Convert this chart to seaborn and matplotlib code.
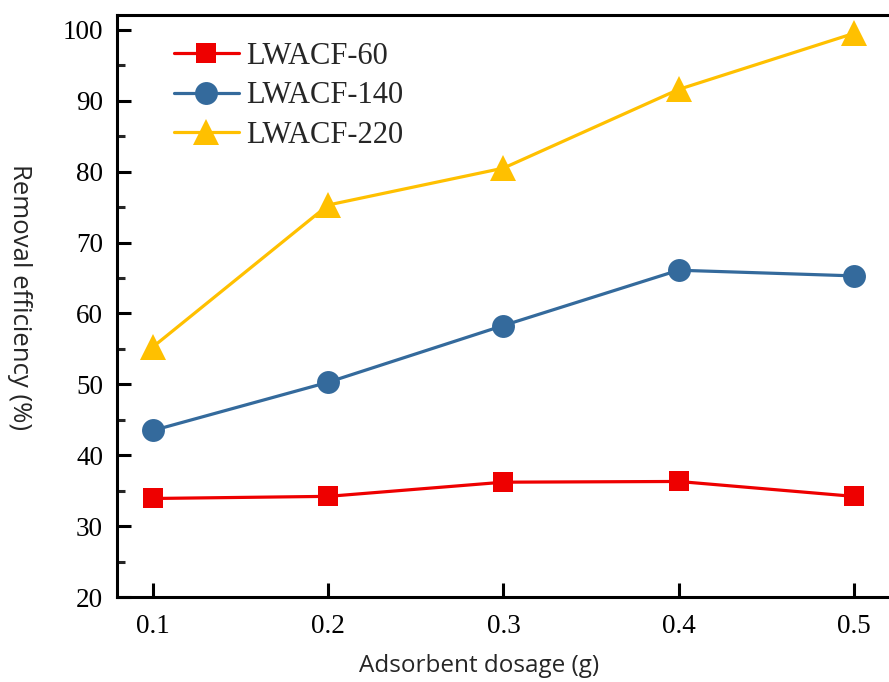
import matplotlib
matplotlib.use("Agg")
import matplotlib.pyplot as plt
import seaborn as sns
import pandas as pd
from matplotlib.ticker import MultipleLocator

dosage = [0.1, 0.2, 0.3, 0.4, 0.5]
lwacf_60 = [33.9, 34.2, 36.2, 36.3, 34.2]
lwacf_140 = [43.5, 50.3, 58.3, 66.1, 65.3]
lwacf_220 = [55.3, 75.3, 80.5, 91.6, 99.5]
series_names = ["LWACF-60", "LWACF-140", "LWACF-220"]

sns.set_theme(style="ticks")
plt.rcParams['font.family'] = ['Liberation Serif', 'DejaVu Serif']

fig = plt.figure(figsize=(8.89, 6.82), dpi=100)
ax = fig.add_axes([0.1316, 0.1246, 0.876, 0.8534])

styles = [("#EE0000", "s", 14), ("#346A9C", "o", 16.5), ("#FFC000", "^", 19)]
for name, vals, (col, mk, ms) in zip(series_names, [lwacf_60, lwacf_140, lwacf_220], styles):
    df = pd.DataFrame({"x": dosage, "y": vals})
    sns.lineplot(data=df, x="x", y="y", ax=ax, color=col, marker=mk, markersize=ms,
                 linewidth=2.3, markeredgewidth=0, label=name)

ax.set_xlim(0.0794, 0.524)
ax.set_ylim(20, 102.1)
ax.set_xticks(dosage)
ax.set_xticklabels(["0.1", "0.2", "0.3", "0.4", "0.5"])
ax.yaxis.set_major_locator(MultipleLocator(10))
ax.yaxis.set_minor_locator(MultipleLocator(5))
ax.tick_params(axis="both", which="major", direction="in", length=10, width=2.2, labelsize=19.5, colors="black")
ax.tick_params(axis="y", which="minor", direction="in", length=6, width=2.2)
ax.tick_params(axis="x", pad=12)
ax.tick_params(axis="y", pad=10)
for s in ax.spines.values():
    s.set_linewidth(2.2)
    s.set_color("black")

ax.set_xlabel("Adsorbent dosage (g)", fontsize=17.5, family=["Open Sans", "DejaVu Sans"], va="center")
ax.xaxis.set_label_coords(0.465, -0.119)
ax.set_ylabel("Removal efficiency (%)", fontsize=18.5, family=["Open Sans", "DejaVu Sans"], rotation=270,
              va="center", ha="center")
ax.yaxis.set_label_coords(-0.125, 0.515)

leg = ax.legend(loc="upper left", frameon=False, fontsize=22, handlelength=2.1, handletextpad=0.25,
                labelspacing=0.35, bbox_to_anchor=(0.058, 0.975), borderaxespad=0)

fig.savefig("out.png", dpi=100)
